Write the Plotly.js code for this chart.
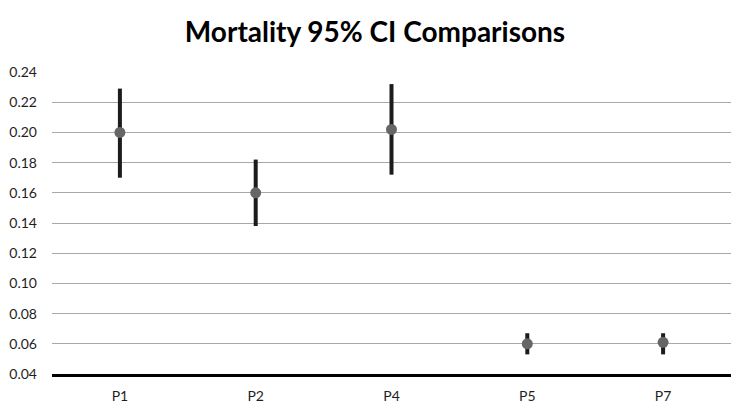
<!DOCTYPE html>
<html>
<head>
<meta charset="utf-8">
<script src="https://cdn.plot.ly/plotly-3.0.1.min.js"></script>
<style>
  html, body { margin: 0; padding: 0; background: #ffffff; }
  #chart { width: 750px; height: 414px; }
</style>
</head>
<body>
<div id="chart"></div>
<script>
// Mortality point estimates with 95% confidence bounds per group
const groups = ['P1', 'P2', 'P4', 'P5', 'P7'];
const mortality = [0.200, 0.160, 0.202, 0.060, 0.061];
const upperCI = [0.229, 0.182, 0.232, 0.067, 0.067];
const lowerCI = [0.170, 0.138, 0.172, 0.053, 0.053];
const yTicks = [0.04, 0.06, 0.08, 0.10, 0.12, 0.14, 0.16, 0.18, 0.20, 0.22, 0.24];

const plusErr = mortality.map((m, i) => upperCI[i] - m);
const minusErr = mortality.map((m, i) => m - lowerCI[i]);

const labelFont = { family: 'Lato, "Open Sans", sans-serif', size: 14, color: '#1e1e1e' };

const trace = {
  type: 'scatter',
  mode: 'markers',
  x: groups,
  y: mortality,
  marker: { size: 11, color: '#666666' },
  error_y: {
    type: 'data',
    symmetric: false,
    array: plusErr,
    arrayminus: minusErr,
    thickness: 4,
    width: 0,
    color: '#1c1c1c'
  },
  hoverinfo: 'skip'
};

const layout = {
  width: 750,
  height: 414,
  margin: { l: 52, r: 19, t: 72, b: 40 },
  paper_bgcolor: '#ffffff',
  plot_bgcolor: '#ffffff',
  showlegend: false,
  title: {
    text: '<b>Mortality 95% CI Comparisons</b>',
    font: { family: 'Lato, "Open Sans", sans-serif', size: 28, color: '#000000' },
    x: 0.5,
    xanchor: 'center',
    y: 0.922,
    yanchor: 'middle'
  },
  xaxis: {
    type: 'category',
    range: [-0.5, 4.5],
    showgrid: false,
    zeroline: false,
    showline: true,
    linecolor: '#000000',
    linewidth: 3,
    ticks: '',
    ticklabelstandoff: 7,
    tickfont: labelFont
  },
  yaxis: {
    range: [0.04, 0.24],
    tickvals: yTicks,
    ticktext: yTicks.map(v => v.toFixed(2)),
    showgrid: true,
    gridcolor: '#a8a8a8',
    gridwidth: 1,
    zeroline: false,
    showline: false,
    ticks: '',
    ticklabelstandoff: 14,
    tickfont: labelFont
  }
};

Plotly.newPlot('chart', [trace], layout, { displayModeBar: false, staticPlot: true });
</script>
</body>
</html>
